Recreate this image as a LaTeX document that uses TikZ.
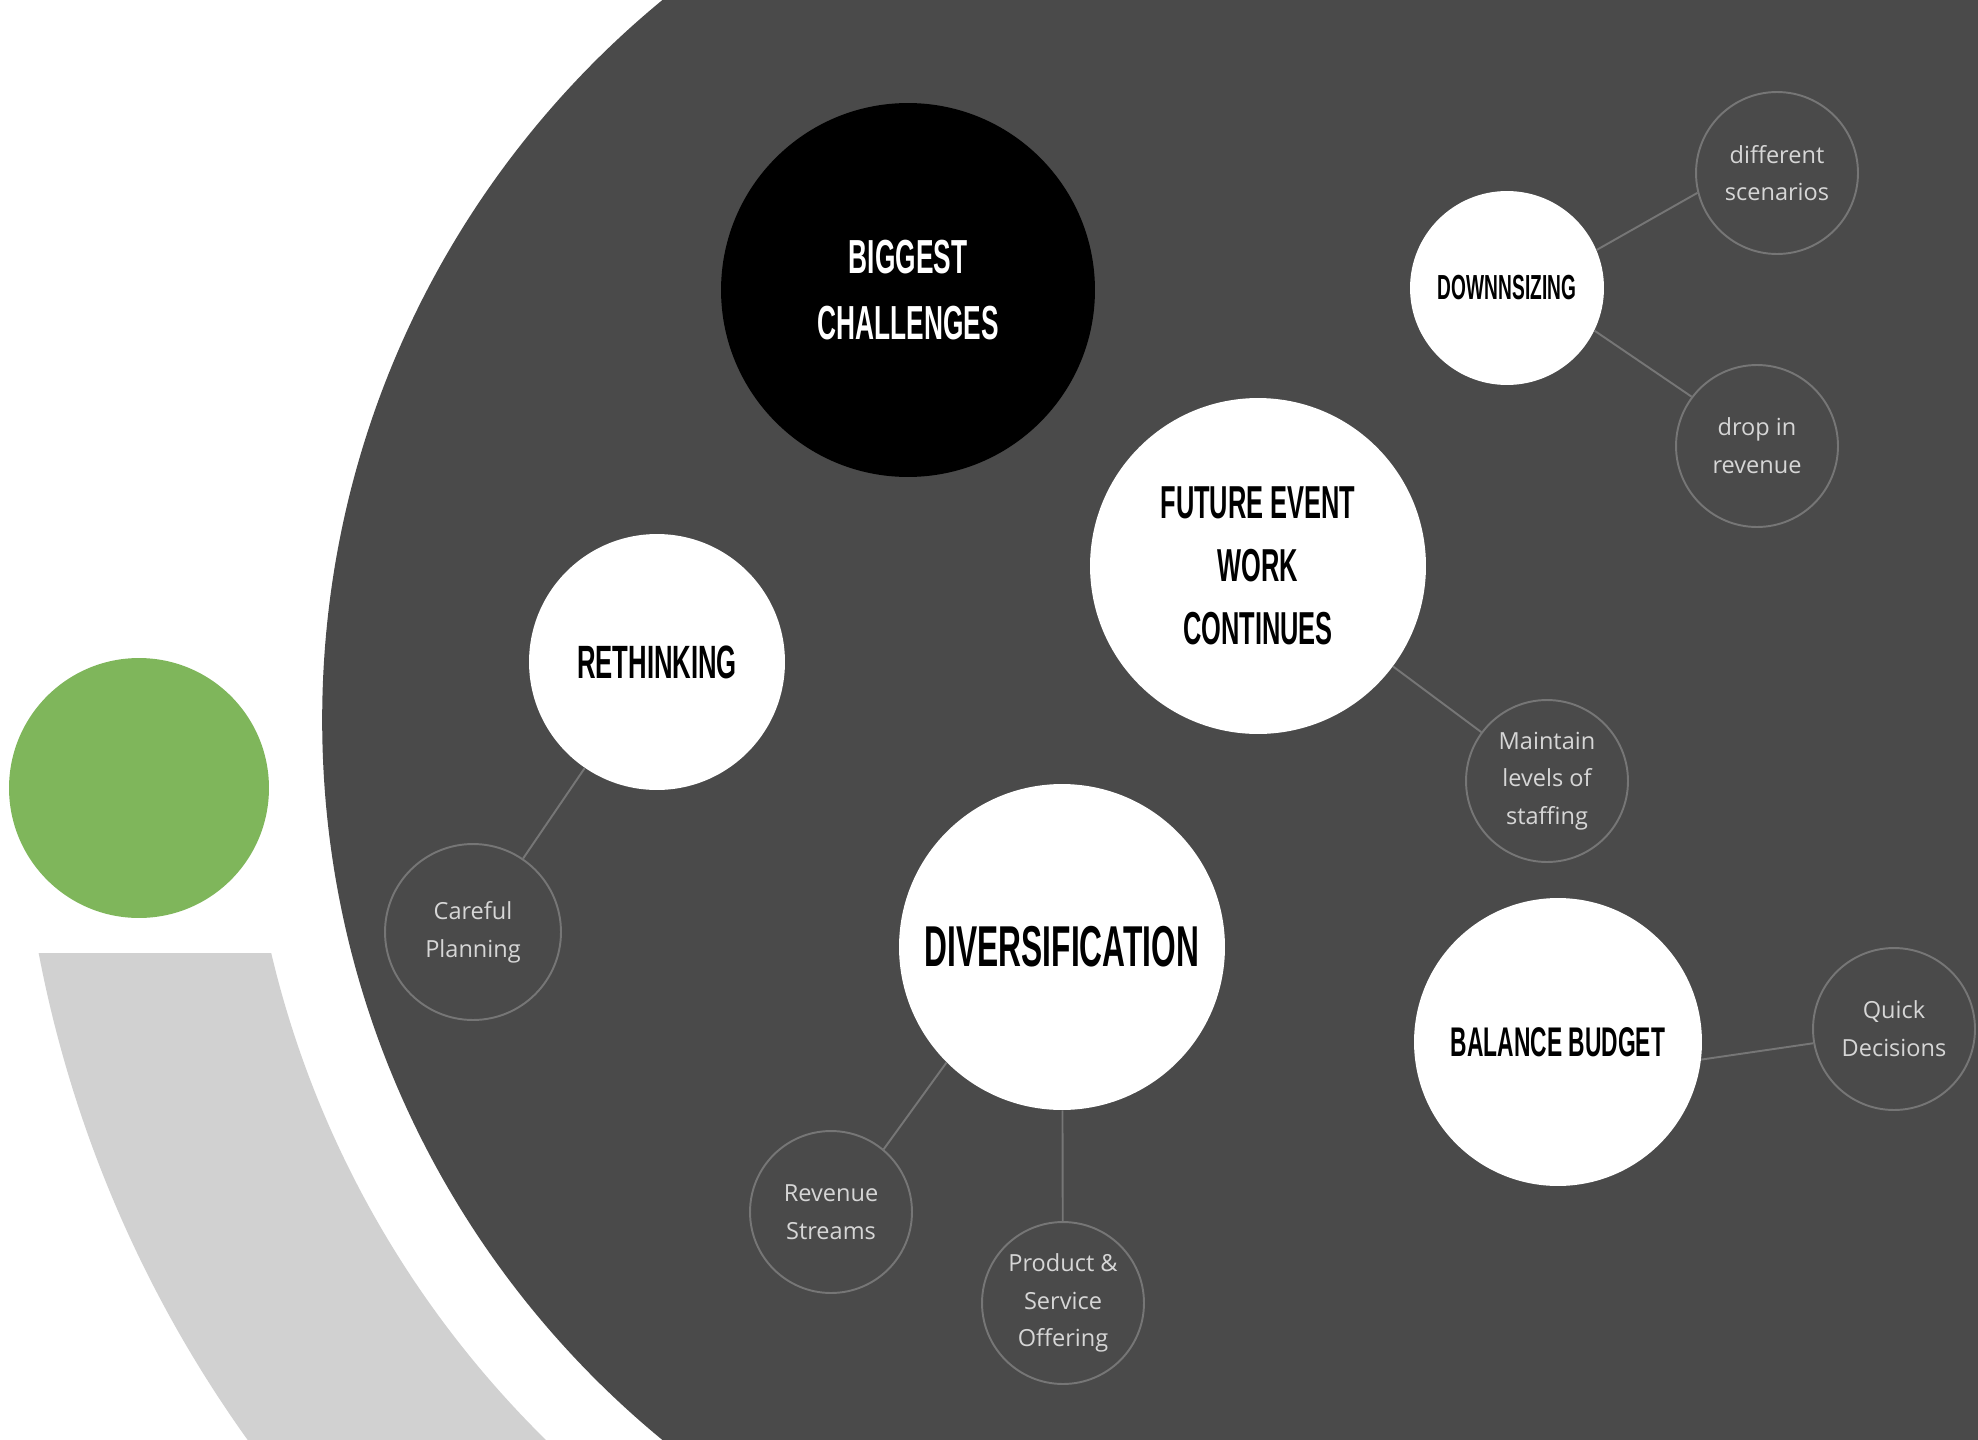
\documentclass[tikz,border=0pt]{standalone}
\usepackage{fontspec}
\newfontfamily\headfont[FakeStretch=0.55]{Liberation Sans Bold}
\newfontfamily\labelfont{Open Sans}
\definecolor{slate}{HTML}{4A4A4A}
\definecolor{band}{HTML}{D1D1D1}
\definecolor{leafgreen}{HTML}{7FB65B}
\definecolor{ringgray}{HTML}{767676}
\definecolor{labelgray}{HTML}{D6D6D6}

\begin{document}
\begin{tikzpicture}[x=0.02cm, y=-0.02cm,
    topic/.style={circle, fill=white, text=black, inner sep=0pt, align=center, minimum size=#1},
    leaf/.style={circle, draw=ringgray, line width=1.1pt, inner sep=0pt, minimum size=#1, align=center,
        text=labelgray, font=\labelfont\fontsize{13.4}{21.5}\selectfont},
    leaf/.default=3.24cm,
    link/.style={draw=ringgray, line width=1.1pt}]
        \useasboundingbox (0,0) rectangle (1978,1440);
        \clip (0,0) rectangle (1978,1440);

        % backdrop
        \fill[slate] (1254,720) circle (18.64cm);
        \fill[slate] (1254,0) rectangle (1978,1440);
        \begin{scope}
            \clip (0,953) rectangle (1254,1440);
            \fill[band, even odd rule] (1254,720) circle (24.75cm) (1254,720) circle (20.2cm);
        \end{scope}
        \fill[leafgreen] (139,788) circle (2.6cm);

        % main topics
        \node[topic=7.48cm, fill=black, text=white, font=\headfont\fontsize{27.2}{38}\selectfont] (chall) at (908,290) {BIGGEST\\CHALLENGES};
        \node[topic=3.88cm, font=\headfont\fontsize{19.8}{24}\selectfont] (downsz) at (1507,288) {DOWNNSIZING};
        \node[topic=6.72cm, font=\headfont\fontsize{26.3}{35.7}\selectfont] (future) at (1258,566) {FUTURE EVENT\\WORK\\CONTINUES};
        \node[topic=5.12cm, font=\headfont\fontsize{26.6}{32}\selectfont] (rethink) at (657,662) {RETHINKING};
        \node[topic=6.52cm, font=\headfont\fontsize{32.8}{40}\selectfont] (divers) at (1062,947) {DIVERSIFICATION};
        \node[topic=5.76cm, font=\headfont\fontsize{23.6}{30}\selectfont] (budget) at (1558,1042) {BALANCE BUDGET};

        % details
        \node[leaf] (scen) at (1777,173) {different\\scenarios};
        \node[leaf] (drop) at (1757,446) {drop in\\revenue};
        \node[leaf] (staff) at (1547,781) {Maintain\\levels of\\staffing};
        \node[leaf=3.52cm] (plan) at (473,932) {Careful\\Planning};
        \node[leaf] (streams) at (831,1212) {Revenue\\Streams};
        \node[leaf] (offer) at (1063,1303) {Product \&\\Service\\Offering};
        \node[leaf] (quick) at (1894,1029) {Quick\\Decisions};

        \draw[link] (downsz.23) -- (scen.194);
        \draw[link] (downsz.-26) -- (drop.143);
        \draw[link] (future) -- (staff);
        \draw[link] (rethink) -- (plan);
        \draw[link] (divers.225) -- (streams.50);
        \draw[link] (divers) -- (offer);
        \draw[link] (budget.-7) -- (quick.190);
\end{tikzpicture}
\end{document}
